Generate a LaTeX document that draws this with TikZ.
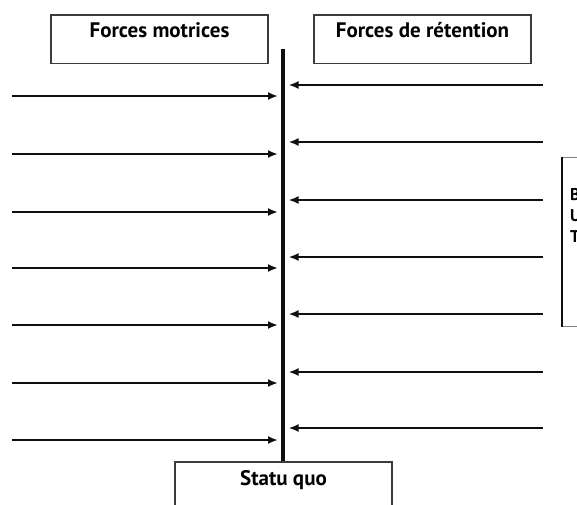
\documentclass[tikz,border=0pt]{standalone}
\usepackage{fontspec}
\setmainfont{PT Sans}
\usetikzlibrary{arrows.meta}
\definecolor{figline}{RGB}{15,15,15}
\definecolor{figbox}{RGB}{60,60,60}
\tikzset{
  boite/.style ={draw=figbox, line width=1.6pt, inner xsep=0pt, inner ysep=8.2pt},
  lab/.style   ={font=\fontsize{21}{24}\selectfont\bfseries},
  labs/.style  ={font=\fontsize{17}{21}\selectfont\bfseries, inner sep=0pt},
  axe/.style   ={draw=figline, line width=3.5pt},
  fmot/.style  ={draw=figline, line width=2pt, shorten >=5pt, -{Latex[length=10pt,width=8pt]}},
  fret/.style  ={draw=figline, line width=2pt, shorten >=5.5pt, -{Latex[length=10pt,width=8pt]}},
}
\begin{document}
\begin{tikzpicture}[x=1pt,y=-1pt]
  \useasboundingbox (0,0) rectangle (577,504);
  \clip (0,0) rectangle (577,504);
  \node[boite,lab,anchor=north,minimum width=217pt,text height=14.5pt,text depth=17.8pt] (motr) at (159.5,14) {Forces motrices};
  \node[boite,lab,anchor=north,minimum width=217pt,text height=14.5pt,text depth=17.8pt] (ret) at (422.5,14) {Forces de rétention};
  \node[boite,lab,anchor=north,minimum width=217pt,text height=14.5pt,text depth=45pt,inner ysep=8.8pt,line width=2.4pt] (sq) at (283.5,461) {Statu quo};
  \node[boite,draw=gray,line width=1.2pt,anchor=north west,minimum width=40pt,minimum height=169pt] (but) at (562,157) {};
  \draw[figline,line width=2.4pt] (but.north west) -- (but.south west);
  \node[labs,anchor=north west,align=left] (buttxt) at ([xshift=8pt,yshift=-31pt]but.north west) {B\\U\\T};
  \coordinate (haut) at (283,49);
  \draw[axe] (haut) -- (haut |- sq.north);
  \coordinate (m1) at (12,96);
  \coordinate (m2) at (12,154);
  \coordinate (m3) at (12,212);
  \coordinate (m4) at (12,268);
  \coordinate (m5) at (12,325);
  \coordinate (m6) at (12,383);
  \coordinate (m7) at (12,440);
  \draw[fmot] (m1) -- (m1 -| haut);
  \draw[fmot] (m2) -- (m2 -| haut);
  \draw[fmot] (m3) -- (m3 -| haut);
  \draw[fmot] (m4) -- (m4 -| haut);
  \draw[fmot] (m5) -- (m5 -| haut);
  \draw[fmot] (m6) -- (m6 -| haut);
  \draw[fmot] (m7) -- (m7 -| haut);
  \coordinate (r1) at (543,85);
  \coordinate (r2) at (543,142);
  \coordinate (r3) at (543,200);
  \coordinate (r4) at (543,257);
  \coordinate (r5) at (543,314);
  \coordinate (r6) at (543,372);
  \coordinate (r7) at (543,428);
  \draw[fret] (r1) -- (r1 -| haut);
  \draw[fret] (r2) -- (r2 -| haut);
  \draw[fret] (r3) -- (r3 -| haut);
  \draw[fret] (r4) -- (r4 -| haut);
  \draw[fret] (r5) -- (r5 -| haut);
  \draw[fret] (r6) -- (r6 -| haut);
  \draw[fret] (r7) -- (r7 -| haut);
\end{tikzpicture}
\end{document}
